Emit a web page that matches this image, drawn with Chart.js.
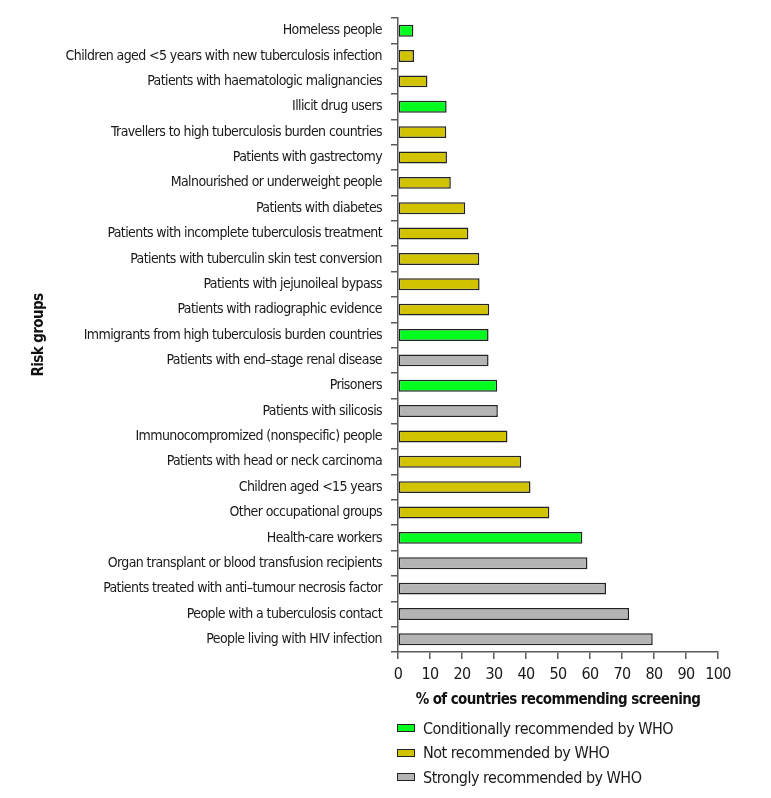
<!DOCTYPE html>
<html>
<head>
<meta charset="utf-8">
<script src="https://cdn.jsdelivr.net/npm/chart.js@4/dist/chart.umd.min.js"></script>
<style>
  html, body { margin: 0; padding: 0; background: #fff; }
  #wrap { position: relative; width: 771px; height: 798px; }
  #legend { position: absolute; left: 397px; top: 716px; font-family: "DejaVu Sans Condensed", "Liberation Sans Narrow", sans-serif; font-size: 16px; letter-spacing: -0.5px; color: #1a1a1a; }
  .lg-item { display: flex; align-items: center; height: 24.5px; }
  .lg-box { width: 16px; height: 6px; border: 1.5px solid #222; margin-right: 8px; }
</style>
</head>
<body>
<div id="wrap">
  <canvas id="chart" width="771" height="798"></canvas>
  <div id="legend"></div>
</div>
<script>
// Risk groups, top to bottom
const groups = [
  'Homeless people',
  'Children aged <5 years with new tuberculosis infection',
  'Patients with haematologic malignancies',
  'Illicit drug users',
  'Travellers to high tuberculosis burden countries',
  'Patients with gastrectomy',
  'Malnourished or underweight people',
  'Patients with diabetes',
  'Patients with incomplete tuberculosis treatment',
  'Patients with tuberculin skin test conversion',
  'Patients with jejunoileal bypass',
  'Patients with radiographic evidence',
  'Immigrants from high tuberculosis burden countries',
  'Patients with end–stage renal disease',
  'Prisoners',
  'Patients with silicosis',
  'Immunocompromized (nonspecific) people',
  'Patients with head or neck carcinoma',
  'Children aged <15 years',
  'Other occupational groups',
  'Health-care workers',
  'Organ transplant or blood transfusion recipients',
  'Patients treated with anti–tumour necrosis factor',
  'People with a tuberculosis contact',
  'People living with HIV infection',
];
const pct = [4.8, 5.0, 9.2, 15.2, 15.1, 15.3, 16.5, 21.0, 22.0, 25.4, 25.5, 28.5, 28.3, 28.3, 31.0, 31.2, 34.2, 38.5, 41.4, 47.3, 57.6, 59.2, 65.0, 72.2, 79.6];
// C = conditionally, N = not, S = strongly recommended by WHO
const who = ['C', 'N', 'N', 'C', 'N', 'N', 'N', 'N', 'N', 'N', 'N', 'N', 'C', 'S', 'C', 'S', 'N', 'N', 'N', 'N', 'C', 'S', 'S', 'S', 'S'];
const xTicks = [0, 10, 20, 30, 40, 50, 60, 70, 80, 90, 100];

const classes = [
  { key: 'C', label: 'Conditionally recommended by WHO', color: '#00FF1E' },
  { key: 'N', label: 'Not recommended by WHO', color: '#D2C300' },
  { key: 'S', label: 'Strongly recommended by WHO', color: '#B4B4B4' },
];

const FONT = '"DejaVu Sans Condensed", "Liberation Sans Narrow", sans-serif';
const AXIS = '#5a5a5a';

const datasets = classes.map((c) => ({
  label: c.label,
  data: pct.map((v, i) => (who[i] === c.key ? v : null)),
  backgroundColor: c.color,
  borderColor: '#222',
  borderWidth: 1.5,
  borderSkipped: false,
  barPercentage: 0.47,
  categoryPercentage: 1,
}));

// tighter text, the original uses a condensed face
const tightText = {
  id: 'tightText',
  beforeDraw(chart) { chart.ctx.letterSpacing = '-0.6px'; },
};

new Chart(document.getElementById('chart'), {
  type: 'bar',
  data: { labels: groups, datasets },
  plugins: [tightText],
  options: {
    indexAxis: 'y',
    responsive: false,
    animation: false,
    layout: { padding: { top: 18, right: 53, left: 0, bottom: 0 } },
    plugins: { legend: { display: false }, tooltip: { enabled: false } },
    scales: {
      x: {
        stacked: true,
        min: 0, max: 100,
        afterBuildTicks: (s) => { s.ticks = xTicks.map((v) => ({ value: v })); },
        afterFit: (s) => { s.height = 146; },
        border: { color: AXIS, width: 1.5 },
        grid: { drawOnChartArea: false, color: AXIS, lineWidth: 1.5, tickLength: 7 },
        ticks: { color: '#1a1a1a', padding: 6, maxRotation: 0, minRotation: 0, font: { family: FONT, size: 16 } },
        title: {
          display: true, text: '% of countries recommending screening', color: '#111',
          font: { family: FONT, size: 15, weight: 'bold' }, padding: { top: 4, bottom: 89 },
        },
      },
      y: {
        stacked: true,
        afterFit: (s) => { s.width = 398; },
        border: { color: AXIS, width: 1.5 },
        grid: { drawOnChartArea: false, color: AXIS, lineWidth: 1.5, tickLength: 7, offset: true },
        ticks: { color: '#1a1a1a', padding: 9, autoSkip: false, font: { family: FONT, size: 14 } },
        title: {
          display: true, text: 'Risk groups', color: '#111',
          font: { family: FONT, size: 15, weight: 'bold' }, padding: { top: 30.5, bottom: 0 },
        },
      },
    },
  },
});

const legend = document.getElementById('legend');
for (const c of classes) {
  const item = document.createElement('div');
  item.className = 'lg-item';
  item.innerHTML = `<span class="lg-box" style="background:${c.color}"></span><span>${c.label}</span>`;
  legend.appendChild(item);
}
</script>
</body>
</html>
